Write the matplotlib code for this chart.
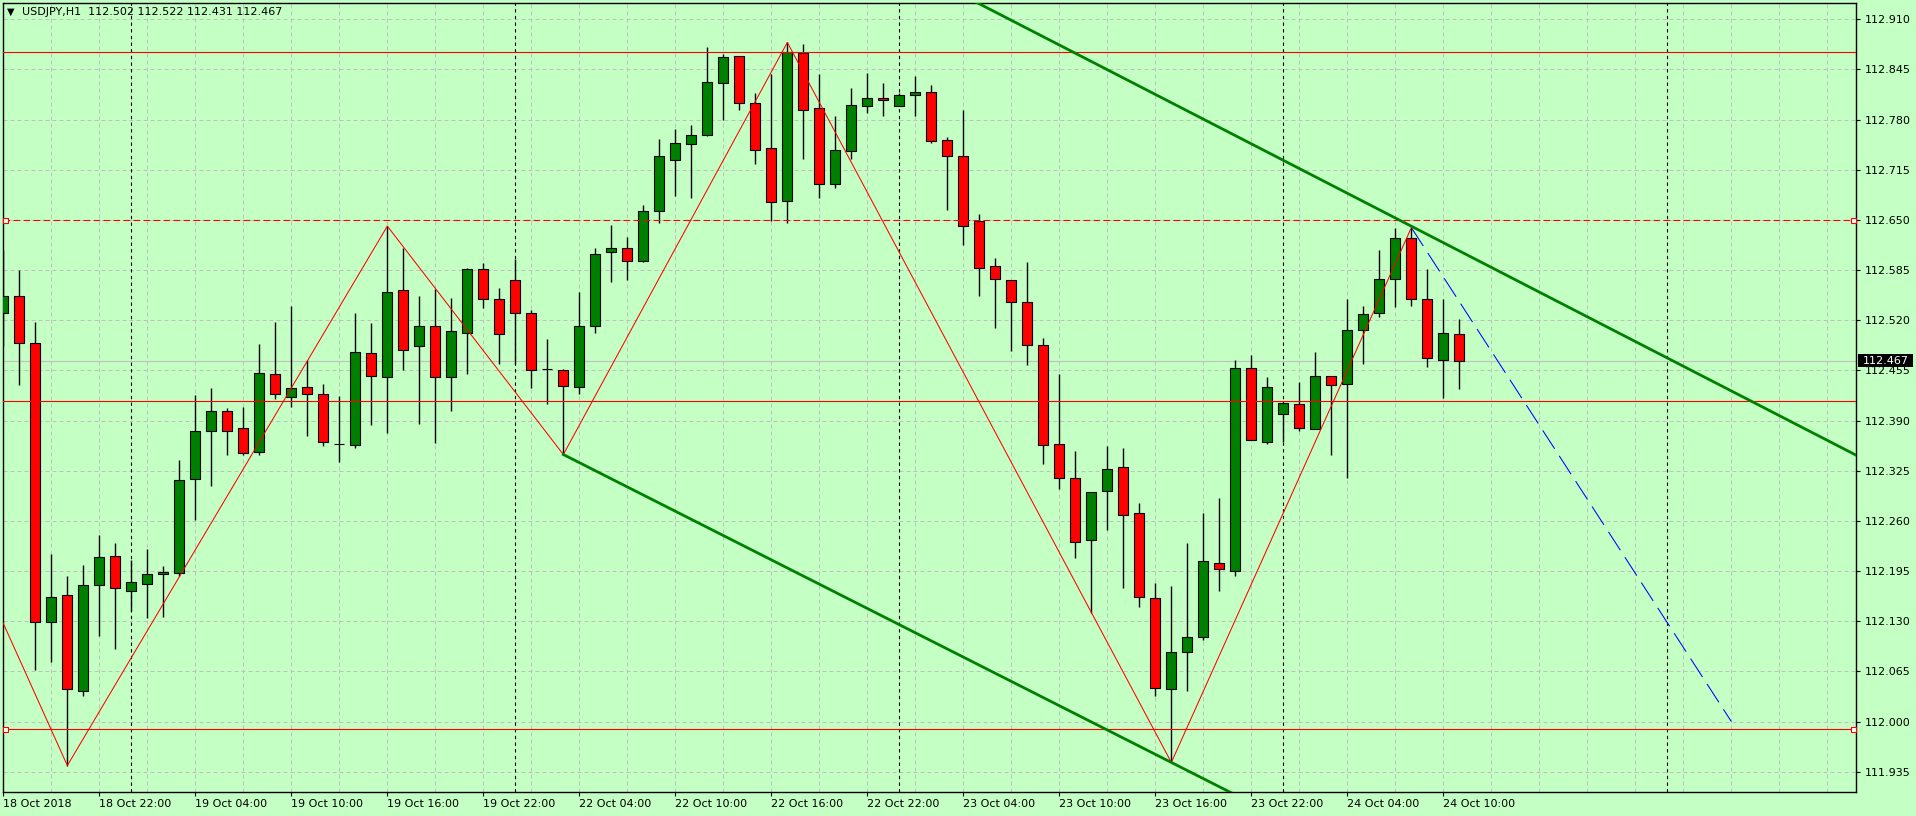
import numpy as np
import matplotlib.pyplot as plt
from matplotlib.patches import Rectangle

# USDJPY H1 bars, bar 0 = 18 Oct 16:00 ... bar 91 = 24 Oct 11:00
opens = [112.530, 112.551, 112.491, 112.129, 112.164, 112.040, 112.177, 112.214, 112.169, 112.178,
         112.191, 112.192, 112.314, 112.376, 112.403, 112.380, 112.349, 112.450, 112.421, 112.433,
         112.424, 112.360, 112.358, 112.477, 112.446, 112.559, 112.487, 112.512, 112.446, 112.503,
         112.586, 112.547, 112.572, 112.529, 112.457, 112.456, 112.434, 112.512, 112.608, 112.613,
         112.597, 112.661, 112.727, 112.748, 112.760, 112.828, 112.862, 112.801, 112.743, 112.674,
         112.866, 112.795, 112.696, 112.739, 112.798, 112.808, 112.798, 112.812, 112.816, 112.753,
         112.733, 112.648, 112.590, 112.572, 112.544, 112.488, 112.359, 112.315, 112.235, 112.299,
         112.330, 112.270, 112.160, 112.042, 112.090, 112.109, 112.206, 112.195, 112.458, 112.362,
         112.398, 112.411, 112.379, 112.448, 112.437, 112.508, 112.529, 112.573, 112.626, 112.548,
         112.468, 112.502]
highs = [112.611, 112.585, 112.518, 112.217, 112.188, 112.203, 112.242, 112.231, 112.209, 112.223,
         112.202, 112.339, 112.423, 112.432, 112.406, 112.408, 112.489, 112.518, 112.539, 112.468,
         112.437, 112.422, 112.530, 112.516, 112.642, 112.613, 112.551, 112.560, 112.549, 112.588,
         112.594, 112.562, 112.599, 112.533, 112.496, 112.457, 112.557, 112.613, 112.644, 112.628,
         112.669, 112.755, 112.768, 112.773, 112.874, 112.865, 112.863, 112.815, 112.839, 112.880,
         112.878, 112.839, 112.785, 112.821, 112.841, 112.828, 112.815, 112.836, 112.825, 112.758,
         112.793, 112.658, 112.601, 112.572, 112.595, 112.497, 112.450, 112.351, 112.298, 112.357,
         112.355, 112.283, 112.180, 112.175, 112.231, 112.270, 112.290, 112.468, 112.475, 112.447,
         112.415, 112.440, 112.479, 112.448, 112.547, 112.539, 112.611, 112.640, 112.640, 112.586,
         112.548, 112.522]
lows = [112.487, 112.436, 112.067, 112.077, 111.943, 112.033, 112.111, 112.094, 112.143, 112.134,
        112.136, 112.189, 112.261, 112.305, 112.345, 112.345, 112.346, 112.418, 112.408, 112.370,
        112.357, 112.336, 112.355, 112.384, 112.374, 112.455, 112.386, 112.361, 112.402, 112.450,
        112.536, 112.463, 112.463, 112.432, 112.411, 112.346, 112.424, 112.503, 112.570, 112.572,
        112.595, 112.646, 112.681, 112.678, 112.759, 112.780, 112.793, 112.723, 112.649, 112.646,
        112.729, 112.679, 112.691, 112.729, 112.789, 112.785, 112.797, 112.785, 112.750, 112.663,
        112.617, 112.551, 112.510, 112.480, 112.462, 112.334, 112.301, 112.212, 112.141, 112.248,
        112.173, 112.148, 112.033, 111.947, 112.039, 112.106, 112.169, 112.188, 112.365, 112.360,
        112.362, 112.377, 112.379, 112.345, 112.315, 112.463, 112.524, 112.537, 112.539, 112.459,
        112.419, 112.431]
closes = [112.551, 112.491, 112.129, 112.161, 112.042, 112.177, 112.213, 112.173, 112.181, 112.191,
          112.194, 112.313, 112.376, 112.402, 112.377, 112.348, 112.452, 112.424, 112.432, 112.424,
          112.362, 112.360, 112.479, 112.448, 112.557, 112.482, 112.512, 112.446, 112.506, 112.586,
          112.547, 112.502, 112.529, 112.456, 112.457, 112.435, 112.512, 112.606, 112.613, 112.597,
          112.662, 112.733, 112.750, 112.760, 112.829, 112.861, 112.802, 112.741, 112.673, 112.868,
          112.793, 112.696, 112.740, 112.799, 112.808, 112.806, 112.812, 112.816, 112.752, 112.733,
          112.642, 112.588, 112.573, 112.543, 112.488, 112.358, 112.315, 112.233, 112.298, 112.327,
          112.268, 112.161, 112.043, 112.090, 112.109, 112.208, 112.198, 112.458, 112.365, 112.433,
          112.413, 112.380, 112.448, 112.436, 112.508, 112.528, 112.573, 112.626, 112.548, 112.471,
          112.503, 112.467]

# time axis labels, one every 6 bars starting at bar 0
time_labels = ["18 Oct 2018", "18 Oct 22:00", "19 Oct 04:00", "19 Oct 10:00", "19 Oct 16:00",
               "19 Oct 22:00", "22 Oct 04:00", "22 Oct 10:00", "22 Oct 16:00", "22 Oct 22:00",
               "23 Oct 04:00", "23 Oct 10:00", "23 Oct 16:00", "23 Oct 22:00", "24 Oct 04:00",
               "24 Oct 10:00"]
day_breaks = [8, 32, 56, 80, 104]
price_ticks = [111.935, 112.000, 112.065, 112.130, 112.195, 112.260, 112.325, 112.390,
               112.455, 112.520, 112.585, 112.650, 112.715, 112.780, 112.845, 112.910]

# drawn objects
zigzag_x = [0, 4, 24, 35, 49, 73, 88]
zigzag_y = [112.127, 111.943, 112.642, 112.346, 112.880, 111.947, 112.640]
upper_trend_x = [61, 116]
upper_trend_y = [112.930, 112.343]
lower_trend_x = [35, 73]
lower_trend_y = [112.346, 111.947]
projection_x = [88, 108]
projection_y = [112.640, 112.000]
solid_levels = [112.868, 112.415]
marked_levels = [112.650, 111.990]
bid = 112.467

BG = '#C4FFC4'
W, H = 1916, 816


def draw_candles(ax):
    x = np.arange(len(opens))
    o = np.array(opens)
    c = np.array(closes)
    colors = np.where(c >= o, '#008000', '#FF0000')
    ax.vlines(x, lows, highs, color='black', lw=1.0, zorder=3)
    ax.bar(x, np.abs(c - o), bottom=np.minimum(o, c), width=0.62, color=colors,
           edgecolor='black', linewidth=0.8, zorder=4)


def main():
    plt.rcParams['font.family'] = ['DejaVu Sans']
    fig = plt.figure(figsize=(W / 100, H / 100), dpi=100, facecolor=BG)
    ax = fig.add_axes([2.7 / W, (H - 792) / H, (1856 - 2.7) / W, (792 - 2.6) / H])
    ax.set_facecolor(BG)
    ax.set_xlim(-0.04, 115.79)
    ax.set_ylim(111.9087, 112.9316)

    # grid
    for p in price_ticks:
        ax.axhline(p, color='#C0C0C0', lw=0.72, linestyle=(0, (4, 3)), zorder=0.5)
    for i in range(3, 116, 3):
        ax.axvline(i, color='#C0C0C0', lw=0.72, linestyle=(0, (4, 3)), zorder=0.5)
    for d in day_breaks:
        ax.axvline(d, color='black', lw=0.8, linestyle=(0, (3, 3)), zorder=1)
    ax.axhline(bid, color='#C0C0C0', lw=0.8, zorder=1)

    draw_candles(ax)

    # horizontal levels
    for lvl in solid_levels:
        ax.axhline(lvl, color='#FF0000', lw=0.8, zorder=5)
    ax.axhline(marked_levels[0], color='#FF0000', lw=0.8, linestyle=(0, (6, 3)), zorder=5)
    ax.axhline(marked_levels[1], color='#FF0000', lw=0.8, zorder=5)
    for lvl in marked_levels:
        ax.plot([0.13, 115.6], [lvl, lvl], 's', ms=3.6, mfc='white', mec='#FF0000',
                mew=0.8, zorder=7, clip_on=False)

    # zigzag and projection
    ax.plot(zigzag_x, zigzag_y, color='#FF0000', lw=0.75, zorder=6)
    ax.plot(projection_x, projection_y, color='#0000FF', lw=0.75,
            linestyle=(0, (21, 8)), zorder=6)

    # channel lines (rays to the right)
    k_up = np.polyfit(upper_trend_x, upper_trend_y, 1)
    xs = np.array([40, 120])
    ax.plot(xs, np.polyval(k_up, xs), color='#008000', lw=2.0, zorder=6)
    k_lo = np.polyfit(lower_trend_x, lower_trend_y, 1)
    xs = np.array([lower_trend_x[0], 90])
    ax.plot(xs, np.polyval(k_lo, xs), color='#008000', lw=2.0, zorder=6)

    # axes
    for s in ax.spines.values():
        s.set_color('black')
        s.set_linewidth(1.0)
    ax.set_xticks(range(0, 6 * len(time_labels), 6))
    ax.set_xticklabels(time_labels, ha='left')
    ax.yaxis.tick_right()
    ax.set_yticks(price_ticks)
    ax.set_yticklabels([f'{p:.3f}' for p in price_ticks])
    ax.tick_params(axis='x', direction='out', length=3, width=0.8, pad=2, labelsize=8)
    ax.tick_params(axis='y', direction='out', length=3, width=0.8, pad=3, labelsize=8)

    # header
    fig.text(7 / W, 1 - 12 / H, '▼', fontsize=7, va='center', ha='left')
    fig.text(22 / W, 1 - 12 / H, 'USDJPY,H1  112.502 112.522 112.431 112.467',
             fontsize=8, va='center', ha='left')

    # bid price label
    fig.patches.append(Rectangle((1857.5 / W, 1 - 367 / H), 55 / W, 13 / H,
                                 transform=fig.transFigure, fc='black', ec='none', zorder=5))
    fig.text(1863 / W, 1 - 360.5 / H, f'{bid:.3f}', color='white', fontsize=8,
             va='center', ha='left', zorder=6)

    fig.savefig('out.png', dpi=100, facecolor=BG)


if __name__ == "__main__":
    main()
